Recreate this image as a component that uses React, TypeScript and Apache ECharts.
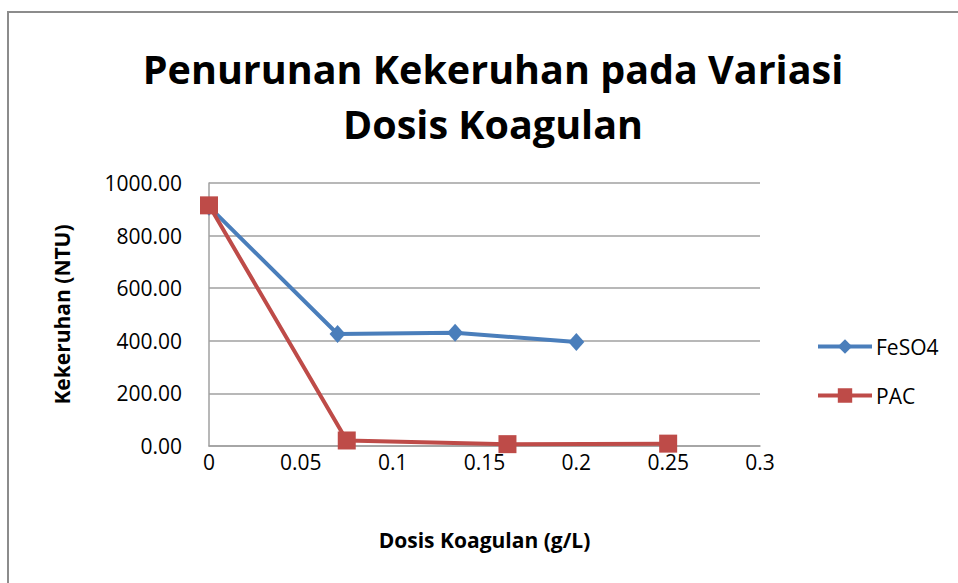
import React, { useEffect, useRef } from "react";
import * as echarts from "echarts";

const titleText = "Penurunan Kekeruhan pada Variasi\nDosis Koagulan";
const xAxisTitle = "Dosis Koagulan (g/L)";
const yAxisTitle = "Kekeruhan (NTU)";

const feso4X = [0, 0.07, 0.134, 0.2];
const feso4Y = [910, 426, 431, 395];
const pacX = [0, 0.075, 0.1625, 0.25];
const pacY = [915, 21, 7, 9];

const FONT = "'Open Sans', Lato, sans-serif";

export default function App() {
  const ref = useRef<HTMLDivElement>(null);
  useEffect(() => {
    if (!ref.current) return;
    const chart = echarts.init(ref.current, undefined, { renderer: "svg" });
    chart.setOption({
      animation: false,
      backgroundColor: "#fff",
      textStyle: { fontFamily: FONT },
      title: {
        text: titleText,
        left: 488,
        textAlign: "center",
        top: 36,
        textStyle: {
          fontFamily: FONT,
          fontSize: 39.5,
          fontWeight: "bold",
          color: "#000",
          lineHeight: 55,
        },
      },
      graphic: [
        {
          type: "rect",
          shape: { x: 8, y: 12, width: 1000, height: 700 },
          style: { fill: "none", stroke: "#8c8c8c", lineWidth: 2 },
          silent: true,
        },
      ],
      legend: {
        orient: "vertical",
        left: 816,
        top: 336,
        padding: 0,
        itemWidth: 54,
        itemHeight: 18,
        itemGap: 28,
        lineStyle: { width: 4 },
        textStyle: {
          fontFamily: FONT,
          fontSize: 21,
          color: "#000",
          padding: [0, 0, 0, -1],
        },
        data: ["FeSO4", "PAC"],
      },
      grid: { left: 209, right: 198, top: 183, bottom: 137 },
      xAxis: {
        type: "value",
        min: 0,
        max: 0.3,
        interval: 0.05,
        name: xAxisTitle,
        nameLocation: "middle",
        nameGap: 83,
        nameTextStyle: { fontFamily: FONT, fontSize: 21, fontWeight: "bold", color: "#000" },
        axisLine: { show: true, lineStyle: { color: "#a0a0a0", width: 1.5 } },
        axisTick: { show: false },
        splitLine: { show: false },
        axisLabel: {
          fontFamily: FONT,
          fontSize: 21,
          color: "#000",
          margin: 5,
          formatter: (v: number) => String(+v.toFixed(2)),
        },
      },
      yAxis: {
        type: "value",
        min: 0,
        max: 1000,
        interval: 200,
        name: yAxisTitle,
        nameLocation: "middle",
        nameGap: 137,
        nameRotate: 90,
        nameTextStyle: { fontFamily: FONT, fontSize: 21, fontWeight: "bold", color: "#000" },
        axisLine: { show: true, lineStyle: { color: "#a0a0a0", width: 1.5 } },
        axisTick: { show: false },
        splitLine: { show: true, lineStyle: { color: "#a0a0a0", width: 1.5 } },
        axisLabel: {
          fontFamily: FONT,
          fontSize: 21,
          color: "#000",
          margin: 27,
          formatter: (v: number) => v.toFixed(2),
        },
      },
      series: [
        {
          name: "FeSO4",
          type: "line",
          data: feso4X.map((x, i) => [x, feso4Y[i]]),
          symbol: "diamond",
          symbolSize: [16, 18],
          lineStyle: { color: "#4A7EBB", width: 4 },
          itemStyle: { color: "#4A7EBB" },
          z: 2,
        },
        {
          name: "PAC",
          type: "line",
          data: pacX.map((x, i) => [x, pacY[i]]),
          symbol: "rect",
          symbolSize: 18,
          lineStyle: { color: "#BE4B48", width: 4 },
          itemStyle: { color: "#BE4B48" },
          z: 3,
        },
      ],
    });
    return () => chart.dispose();
  }, []);
  return <div ref={ref} style={{ width: 958, height: 583, position: "absolute", left: 0, top: 0 }} />;
}
